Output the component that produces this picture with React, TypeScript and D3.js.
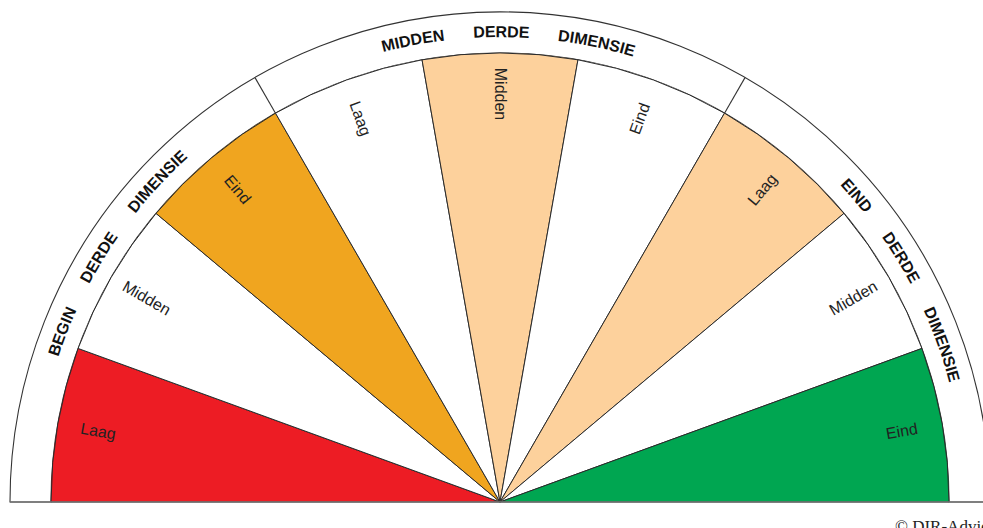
import React from "react";
import * as d3 from "d3";

const segmentLabels = ["Laag", "Midden", "Eind", "Laag", "Midden", "Eind", "Laag", "Midden", "Eind"];
const segmentColors = ["#ED1C24", "#FFFFFF", "#F0A51F", "#FFFFFF", "#FDD19C", "#FFFFFF", "#FDD19C", "#FFFFFF", "#00A651"];
const bandLabels = ["BEGIN DERDE DIMENSIE", "MIDDEN DERDE DIMENSIE", "EIND DERDE DIMENSIE"];
const bandCenters = [33, 91, 151];
const bandDividers = [60, 120];
const copyright = "© DIR-Advies";

const W = 983, H = 528;
const CX = 500, CY = 502;
const R_IN = 449, R_OUT = 490, R_TEXT = 465, R_LABEL = 408;

export default function App() {
  const angle = d3.scaleLinear().domain([0, 180]).range([-Math.PI / 2, Math.PI / 2]);
  const segDeg = 180 / segmentLabels.length;
  const arcGen = d3.arc<any>();
  const pt = (deg: number, r: number) => {
    const a = (deg * Math.PI) / 180;
    return [CX - r * Math.cos(a), CY - r * Math.sin(a)];
  };
  const band = arcGen({ innerRadius: R_IN, outerRadius: R_OUT, startAngle: angle(0), endAngle: angle(180) }) as string;
  const textPath = `M${CX - R_TEXT},${CY} A${R_TEXT},${R_TEXT} 0 0 1 ${CX + R_TEXT},${CY}`;

  return (
    <svg width={W} height={H} style={{ position: "absolute", left: 0, top: 0 }} fontFamily="'Liberation Sans', Arial, sans-serif">
      <defs>
        <path id="bandPath" d={textPath} />
      </defs>
      <rect width={W} height={H} fill="#fff" />
      <g transform={`translate(${CX},${CY})`}>
        <path d={band} fill="#fff" stroke="#333" strokeWidth={1.1} />
        {segmentLabels.map((_, i) => (
          <path
            key={i}
            d={arcGen({ innerRadius: 0, outerRadius: R_IN, startAngle: angle(i * segDeg), endAngle: angle((i + 1) * segDeg) }) as string}
            fill={segmentColors[i]}
            stroke="#2a2a2a"
            strokeWidth={1}
            strokeLinejoin="round"
          />
        ))}
      </g>
      {bandDividers.map((d, i) => {
        const [x1, y1] = pt(d, R_IN);
        const [x2, y2] = pt(d, R_OUT);
        return <line key={i} x1={x1} y1={y1} x2={x2} y2={y2} stroke="#333" strokeWidth={1.1} />;
      })}
      <line x1={CX - R_OUT} y1={CY} x2={W} y2={CY} stroke="#777" strokeWidth={1.6} />
      {segmentLabels.map((lab, i) => {
        const c = i * segDeg + segDeg / 2;
        const [x, y] = pt(c, R_LABEL);
        const rot = c <= 90 ? c : c - 180;
        return (
          <text key={i} x={x} y={y} transform={`rotate(${rot},${x},${y})`} textAnchor="middle" dominantBaseline="central" fontSize={16} fill="#222">
            {lab}
          </text>
        );
      })}
      {bandLabels.map((lab, i) => (
        <text key={i} fontSize={16} fontWeight="bold" fill="#111" wordSpacing={24}>
          <textPath href="#bandPath" startOffset={(R_TEXT * bandCenters[i] * Math.PI) / 180} textAnchor="middle">
            {lab}
          </textPath>
        </text>
      ))}
      <text x={895} y={532} fontFamily="'Liberation Serif', 'Times New Roman', serif" fontSize={17} fill="#222">
        {copyright}
      </text>
    </svg>
  );
}
